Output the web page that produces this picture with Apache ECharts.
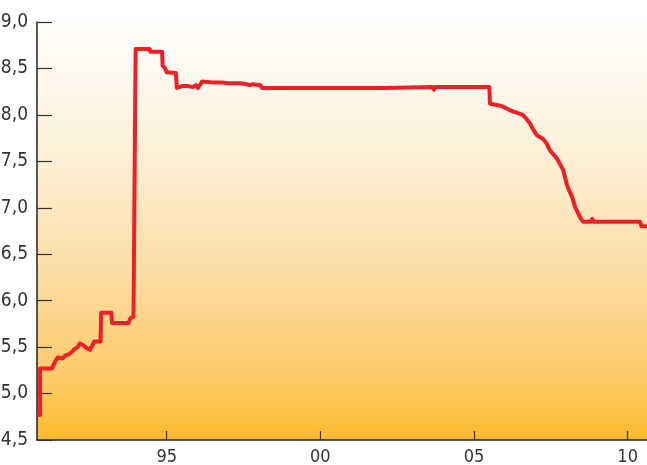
<!DOCTYPE html>
<html>
<head>
<meta charset="utf-8">
<script src="https://cdn.jsdelivr.net/npm/echarts@6/dist/echarts.min.js"></script>
<style>
  html, body { margin: 0; padding: 0; background: #ffffff; }
  #chart { width: 647px; height: 465px; }
</style>
</head>
<body>
<div id="chart"></div>
<script>
// Interest rate series (decimal year, percent)
const years = [
  1990.78, 1990.88, 1990.88, 1991.27, 1991.32, 1991.38, 1991.46, 1991.55, 1991.62, 1991.70,
  1991.80, 1991.92, 1992.00, 1992.10, 1992.18, 1992.28, 1992.40, 1992.50, 1992.56, 1992.60,
  1992.64, 1992.85, 1992.87, 1993.20, 1993.22, 1993.76, 1993.82, 1993.92, 1993.97, 1993.99,
  1994.45, 1994.47, 1994.85, 1994.87, 1994.95, 1995.00, 1995.30, 1995.33, 1995.50, 1995.70,
  1995.85, 1995.95, 1996.02, 1996.10, 1996.15, 1996.50, 1996.80, 1997.00, 1997.40, 1997.60,
  1997.70, 1997.80, 1998.05, 1998.10, 2002.10, 2002.12, 2003.65, 2003.70, 2003.74, 2005.50,
  2005.52, 2005.70, 2005.85, 2006.00, 2006.17, 2006.34, 2006.59, 2006.70, 2006.82, 2006.95,
  2007.05, 2007.25, 2007.35, 2007.47, 2007.60, 2007.70, 2007.80, 2007.90, 2008.03, 2008.19,
  2008.29, 2008.45, 2008.55, 2008.80, 2008.85, 2008.90, 2010.40, 2010.45, 2010.63
];
const rates = [
  4.77, 4.77, 5.27, 5.27, 5.31, 5.35, 5.39, 5.38, 5.38, 5.41,
  5.42, 5.45, 5.48, 5.50, 5.54, 5.52, 5.49, 5.47, 5.46, 5.53,
  5.56, 5.56, 5.87, 5.87, 5.76, 5.76, 5.81, 5.83, 5.83, 8.71,
  8.71, 8.68, 8.68, 8.53, 8.50, 8.46, 8.45, 8.29, 8.31, 8.31,
  8.30, 8.32, 8.29, 8.33, 8.36, 8.35, 8.35, 8.34, 8.34, 8.33,
  8.32, 8.33, 8.32, 8.29, 8.29, 8.30, 8.30, 8.27, 8.30, 8.30,
  8.12, 8.11, 8.10, 8.08, 8.05, 8.03, 8.00, 7.96, 7.91, 7.83,
  7.78, 7.74, 7.70, 7.62, 7.57, 7.53, 7.47, 7.41, 7.24, 7.12,
  7.01, 6.90, 6.85, 6.85, 6.88, 6.85, 6.85, 6.80, 6.80
];
// Axis ticks and their labels
const xTickYears = [1995, 2000, 2005, 2010];
const xTickLabels = ['95', '00', '05', '10'];

const points = years.map((y, i) => [y, rates[i]]);
const labelFont = '"DejaVu Sans Condensed", "DejaVu Sans", sans-serif';

const chart = echarts.init(document.getElementById('chart'), null, { renderer: 'canvas' });
chart.setOption({
  animation: false,
  backgroundColor: '#ffffff',
  grid: {
    left: 37, right: 0, top: 22, bottom: 25,
    containLabel: false,
    outerBoundsMode: 'none',
    show: true,
    borderWidth: 0,
    backgroundColor: new echarts.graphic.LinearGradient(0, 0, 0, 1, [
      { offset: 0, color: '#fffefc' },
      { offset: 0.3, color: '#fdf1da' },
      { offset: 0.6, color: '#fcdda5' },
      { offset: 0.85, color: '#fcca68' },
      { offset: 1, color: '#fdbb2b' }
    ])
  },
  xAxis: {
    type: 'value',
    min: 1990.78,
    max: 2010.63,
    axisLine: { show: true, lineStyle: { color: '#222', width: 1.5 } },
    axisTick: {
      show: true, inside: true, length: 9,
      customValues: xTickYears,
      lineStyle: { color: '#333', width: 1.2 }
    },
    axisLabel: {
      customValues: xTickYears,
      formatter: v => xTickLabels[xTickYears.indexOf(Math.round(v))] || '',
      color: '#333', fontSize: 18, fontFamily: labelFont, margin: 8
    },
    splitLine: { show: false }
  },
  yAxis: {
    type: 'value',
    min: 4.5,
    max: 9.0,
    interval: 0.5,
    axisLine: { show: true, lineStyle: { color: '#222', width: 1.5 } },
    axisTick: {
      show: true, inside: true, length: 15,
      lineStyle: { color: '#333', width: 1.2 }
    },
    axisLabel: {
      formatter: v => v.toFixed(1).replace('.', ','),
      color: '#333', fontSize: 19, fontFamily: labelFont, margin: 9
    },
    splitLine: { show: false }
  },
  series: [{
    type: 'line',
    data: points,
    showSymbol: false,
    lineStyle: { color: '#ee1f26', width: 4, join: 'round' },
    clip: true
  }]
});
</script>
</body>
</html>
